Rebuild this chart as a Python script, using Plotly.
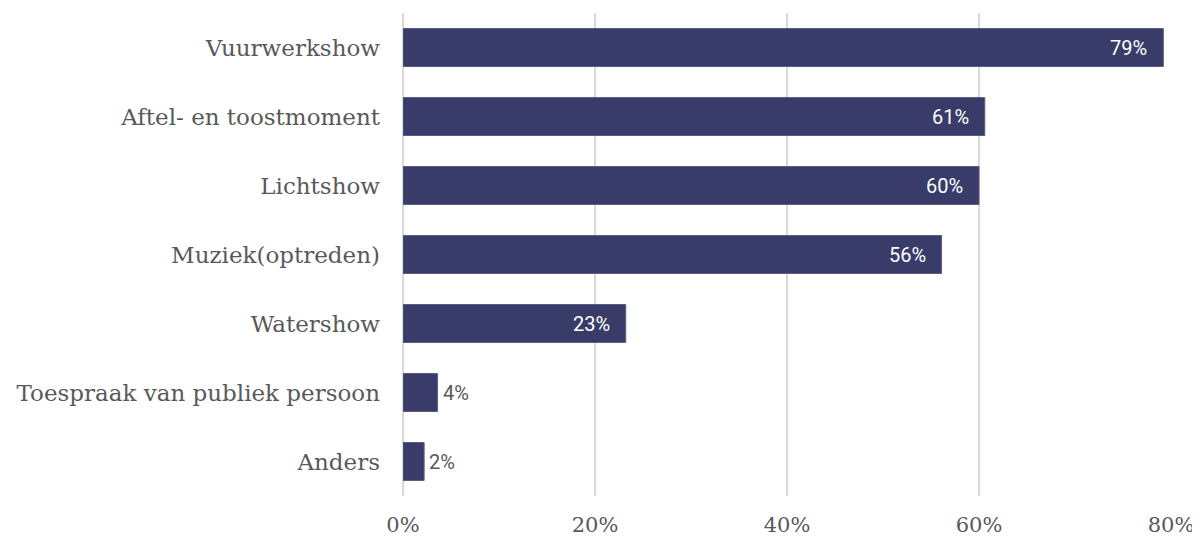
import plotly.graph_objects as go

categories = ["Vuurwerkshow", "Aftel- en toostmoment", "Lichtshow", "Muziek(optreden)",
              "Watershow", "Toespraak van publiek persoon", "Anders"]
values = [79.2, 60.6, 60.0, 56.1, 23.2, 3.6, 2.2]
labels = ["79%", "61%", "60%", "56%", "23%", "4%", "2%"]
tick_vals = [0, 20, 40, 60, 80]
tick_text = ["0%", "20%", "40%", "60%", "80%"]

fig = go.Figure(go.Bar(
    y=categories, x=values, orientation="h",
    marker=dict(color="#393c69", line=dict(color="#5a5d85", width=1)),
    hoverinfo="skip",
))

for cat, v, lab in zip(categories, values, labels):
    inside = v > 10
    fig.add_annotation(
        x=v, y=cat, xref="x", yref="y", text=lab, showarrow=False,
        xanchor="right" if inside else "left",
        xshift=-14 if inside else 3,
        font=dict(family="Roboto", size=20, color="white" if inside else "#595959"),
    )

fig.update_layout(
    width=1200, height=538,
    margin=dict(l=395, r=37, t=5, b=50, autoexpand=False),
    paper_bgcolor="white", plot_bgcolor="white",
    bargap=0.45,
    showlegend=False,
    xaxis=dict(range=[0, 80], tickvals=tick_vals, ticktext=tick_text,
               showgrid=True, gridcolor="#d9d9d9", gridwidth=2,
               zeroline=True, zerolinecolor="#d9d9d9", zerolinewidth=2,
               tickfont=dict(family="DejaVu Serif", size=21, color="#595959"),
               ticks="", showline=False, automargin=False, ticklabelstandoff=14),
    yaxis=dict(autorange="reversed", showgrid=False, ticks="",
               automargin=False, ticklabelstandoff=22,
               tickfont=dict(family="DejaVu Serif", size=23, color="#595959")),
)

fig.write_html("out.html")
